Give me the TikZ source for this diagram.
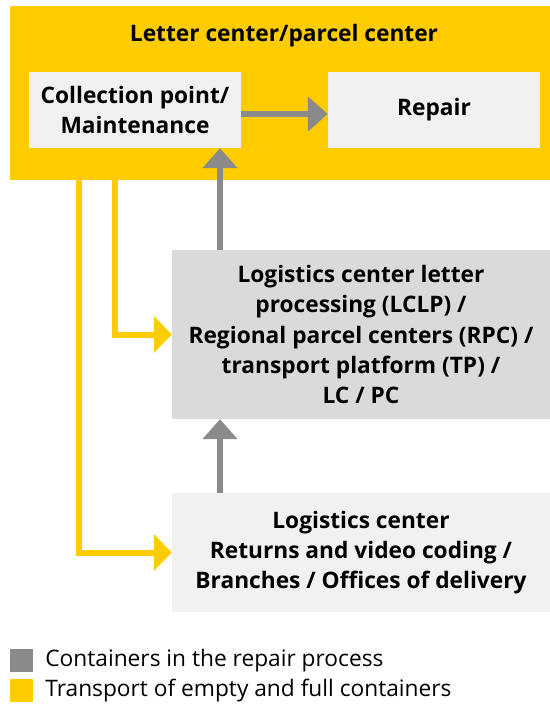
\documentclass[tikz,border=0pt]{standalone}
\usepackage{fontspec}
\setmainfont{Open Sans}
\usetikzlibrary{arrows.meta,positioning}
\definecolor{postyellow}{HTML}{FFCC00}
\definecolor{arrowgray}{HTML}{8A8A8A}
\definecolor{boxgray}{HTML}{D9DADA}
\definecolor{boxlight}{HTML}{F2F1F0}
\tikzset{
  boxtext/.style={align=center, inner sep=0pt, font=\bfseries\fontsize{22.8}{30.5}\selectfont},
  lightbox/.style={boxtext, fill=boxlight},
  graybox/.style={boxtext, fill=boxgray},
  grayarrow/.style={draw=arrowgray, line width=6bp, -{Triangle[width=34bp,length=20bp]}},
  yellowarrow/.style={draw=postyellow, line width=6bp, -{Triangle[width=36bp,length=18bp]}},
  keybox/.style={minimum size=23bp, inner sep=0pt},
  keytext/.style={font=\fontsize{22.8}{26}\selectfont, inner sep=0pt},
}
\begin{document}
\begin{tikzpicture}[x=1bp,y=-1bp]
\useasboundingbox (0,0) rectangle (550,707);
\node[fill=postyellow, minimum width=540bp, minimum height=174bp, inner sep=0pt] (center) at (280,93) {};
\node[boxtext] (title) at (284,36) {Letter center/parcel center};
\node[lightbox, minimum width=212bp, minimum height=76bp] (collect) at (135,110) {Collection point/\\Maintenance};
\node[lightbox, minimum width=212bp, minimum height=76bp] (repair) at (434,110) {Repair};
\node[graybox, minimum width=378bp, minimum height=169bp] (lc) at (361,334.5) {Logistics center letter\\processing (LCLP) /\\Regional parcel centers (RPC) /\\transport platform (TP) /\\LC / PC};
\node[lightbox, minimum width=378bp, minimum height=119bp] (source) at (361,552.5) {Logistics center\\Returns and video coding /\\Branches / Offices of delivery};
\coordinate (up) at (220,0);
\coordinate (far) at (79,0);
\coordinate (near) at (115,0);
% gray: repair flow
\draw[grayarrow] ([yshift=-4bp]collect.east) -- ([yshift=-4bp]repair.west);
\draw[grayarrow] (lc.north -| up) -- (collect.south -| up);
\draw[grayarrow] (source.north -| up) -- (lc.south -| up);
% yellow: empty and full containers
\draw[yellowarrow] (center.south -| near) |- (lc.west);
\draw[yellowarrow] (center.south -| far) |- (source.west);
% legend
\node[keybox, fill=arrowgray] (keygray) at (21.5,660.5) {};
\node[keybox, fill=postyellow] (keyyellow) at (21.5,690.5) {};
\node[keytext, right=12bp of keygray] (graytext) {Containers in the repair process};
\node[keytext, right=12bp of keyyellow] (yellowtext) {Transport of empty and full containers};
\end{tikzpicture}
\end{document}
